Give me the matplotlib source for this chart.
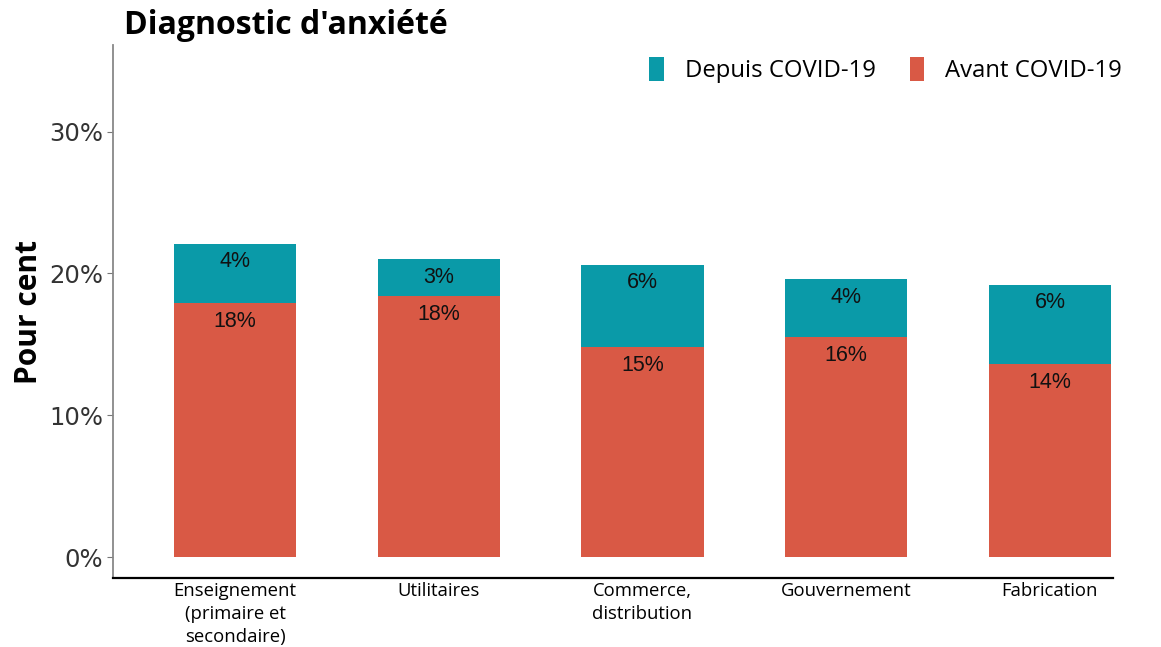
import matplotlib

matplotlib.use("Agg")
import matplotlib.pyplot as plt
from matplotlib.patches import Patch

TEAL = "#0a9aa8"
RED = "#d95945"

# données (% de répondants)
sectors = ["Enseignement\n(primaire et\nsecondaire)", "Utilitaires", "Commerce,\ndistribution",
           "Gouvernement", "Fabrication"]
avant = [17.9, 18.4, 14.8, 15.5, 13.6]
depuis = [4.2, 2.6, 5.8, 4.1, 5.6]
yticks = [0, 10, 20, 30]

fig = plt.figure(figsize=(11.61, 6.47), dpi=100)
ax = fig.add_axes([0.0973, 0.1066, 0.8614, 0.8238])

x = list(range(len(sectors)))
b_avant = ax.bar(x, avant, width=0.6, color=RED, zorder=2)
b_depuis = ax.bar(x, depuis, width=0.6, bottom=avant, color=TEAL, zorder=2)

# étiquettes de valeur, juste sous le haut de chaque segment
for xi, a, d in zip(x, avant, depuis):
    for top, v in [(a, a), (a + d, d)]:
        ax.annotate(f"{v:.0f}%", (xi, top), xytext=(0, -13), textcoords="offset points",
                    ha="center", va="center", fontsize=15.5, color="#111",
                    family="Liberation Sans", zorder=3)

ax.set_xlim(-0.60, 4.31)
ax.set_ylim(-1.48, 36.1)
ax.set_yticks(yticks)
ax.set_yticklabels([f"{t}%" for t in yticks], fontsize=17.5, color="#333", family="DejaVu Sans")
ax.set_xticks(x)
ax.set_xticklabels(sectors, fontsize=13.3, family="Open Sans", linespacing=1.35)
ax.tick_params(axis="x", length=0, pad=3)
ax.tick_params(axis="y", length=4, width=0.8, color="#777", pad=3)

for s in ["top", "right"]:
    ax.spines[s].set_visible(False)
ax.spines["left"].set_color("#888")
ax.spines["left"].set_linewidth(1.3)
ax.spines["bottom"].set_color("black")
ax.spines["bottom"].set_linewidth(1.6)

ax.set_ylabel("Pour cent", fontsize=21.5, weight="bold", family="Open Sans")
ax.yaxis.set_label_coords(-0.069, 0.50)

fig.text(124 / 1161, 1 - 26 / 647, "Diagnostic d'anxiété", fontsize=23, weight="bold",
         family="Open Sans", ha="left", va="center")

handles = [Patch(facecolor=TEAL, label="Depuis COVID-19"),
           Patch(facecolor=RED, label="Avant COVID-19")]
fig.legend(handles=handles, ncol=2, loc="center right", bbox_to_anchor=(0.985, 1 - 70 / 647),
           frameon=False, prop={"family": "Open Sans", "size": 17.2},
           handlelength=0.6, handleheight=1.2, handletextpad=0.9, columnspacing=1.4)

fig.savefig("out.png", dpi=100)
plt.close()
